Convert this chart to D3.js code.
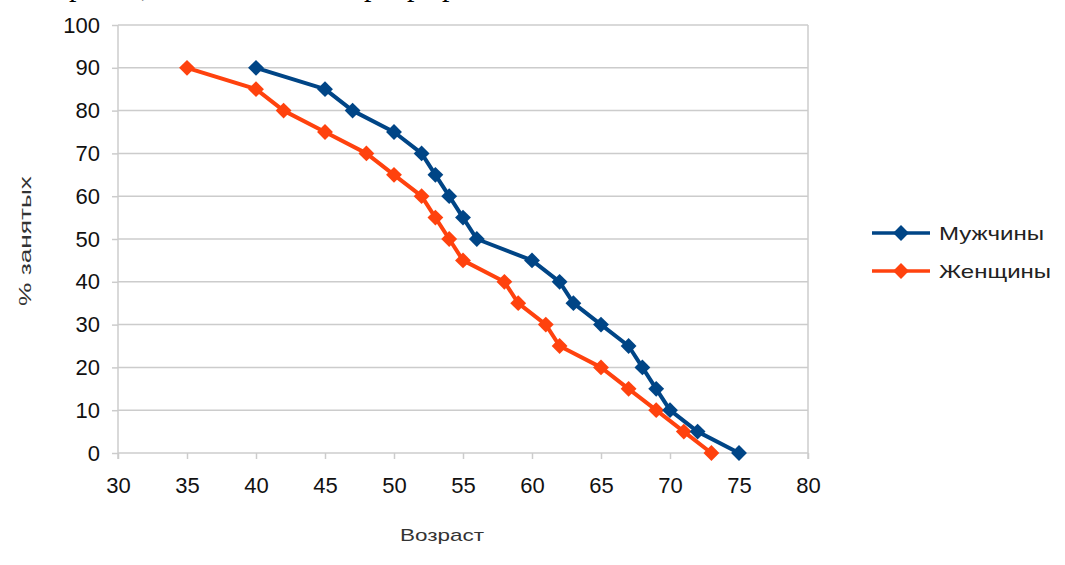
<!DOCTYPE html>
<html><head><meta charset="utf-8">
<script src="https://cdn.jsdelivr.net/npm/d3@7"></script>
<style>body{margin:0;background:#fff}svg{display:block}</style>
</head><body>
<svg id="c" width="1065" height="565"></svg>
<script>
const seriesNames = ["Мужчины", "Женщины"];
const menAge = [40,45,47,50,52,53,54,55,56,60,62,63,65,67,68,69,70,72,75];
const menPct = [90,85,80,75,70,65,60,55,50,45,40,35,30,25,20,15,10,5,0];
const womenAge = [35,40,42,45,48,50,52,53,54,55,58,59,61,62,65,67,69,71,73];
const womenPct = [90,85,80,75,70,65,60,55,50,45,40,35,30,25,20,15,10,5,0];
const xTicks = [30,35,40,45,50,55,60,65,70,75,80];
const yTicks = [0,10,20,30,40,50,60,70,80,90,100];
const xTitle = "Возраст";
const yTitle = "% занятых";
const colors = ["#004586", "#ff420e"];

const svg = d3.select("#c");
const x = d3.scaleLinear().domain([30,80]).range([118,808]);
const y = d3.scaleLinear().domain([0,100]).range([453,25]);
const font = "'Liberation Sans', Arial, sans-serif";

// partial text line cut at the top (as in the source image)
svg.append("g").selectAll("text").data([{t:"р",x:69},{t:",",x:141},{t:"р",x:364},{t:"р",x:407},{t:"р",x:442}])
  .join("text").attr("x",d=>d.x).attr("y",-4).attr("font-family","'Liberation Serif', serif")
  .attr("font-size",30).attr("fill","#000").text(d=>d.t);

// gridlines
svg.append("g").selectAll("line").data(yTicks).join("line")
  .attr("x1",x(30)).attr("x2",x(80)).attr("y1",d=>y(d)).attr("y2",d=>y(d))
  .attr("stroke","#cccccc").attr("stroke-width",1.5);
// vertical frame
svg.append("line").attr("x1",x(30)).attr("x2",x(30)).attr("y1",y(100)).attr("y2",y(0)+6).attr("stroke","#cccccc").attr("stroke-width",1.5);
svg.append("line").attr("x1",x(80)).attr("x2",x(80)).attr("y1",y(100)).attr("y2",y(0)+6).attr("stroke","#cccccc").attr("stroke-width",1.5);

// axes
const xAxis = svg.append("g").attr("transform",`translate(0,${y(0)})`)
  .call(d3.axisBottom(x).tickValues(xTicks).tickSize(6).tickPadding(18));
const yAxis = svg.append("g").attr("transform",`translate(${x(30)},0)`)
  .call(d3.axisLeft(y).tickValues(yTicks).tickSize(6).tickPadding(12));
[xAxis,yAxis].forEach(a=>{
  a.select(".domain").remove();
  a.selectAll(".tick line").attr("stroke","#cccccc").attr("stroke-width",1.5);
  a.selectAll("text").attr("font-family",font).attr("font-size",22).attr("fill","#111");
});

// titles
svg.append("text").attr("x",442).attr("y",541).attr("text-anchor","middle")
  .attr("font-family",font).attr("font-size",17).attr("fill","#333")
  .attr("textLength",84).attr("lengthAdjust","spacingAndGlyphs").text(xTitle);
svg.append("text").attr("transform","translate(31,241) rotate(-90)").attr("text-anchor","middle")
  .attr("font-family",font).attr("font-size",17).attr("fill","#333")
  .attr("textLength",130).attr("lengthAdjust","spacingAndGlyphs").text(yTitle);

// series
const series = [
  {name:seriesNames[0], pts:menAge.map((a,i)=>[a,menPct[i]]), color:colors[0]},
  {name:seriesNames[1], pts:womenAge.map((a,i)=>[a,womenPct[i]]), color:colors[1]}
];
const line = d3.line().x(d=>x(d[0])).y(d=>y(d[1]));
const diamond = d3.symbol().type(d3.symbolDiamond2).size(160);
series.slice().reverse().forEach(s=>{
  const g = svg.append("g");
  g.append("path").datum(s.pts).attr("d",line).attr("fill","none")
    .attr("stroke",s.color).attr("stroke-width",4).attr("stroke-linejoin","round");
  g.selectAll("path.m").data(s.pts).join("path").attr("class","m")
    .attr("transform",d=>`translate(${x(d[0])},${y(d[1])})`)
    .attr("d",diamond).attr("fill",s.color);
});

// legend
const leg = svg.append("g");
series.forEach((s,i)=>{
  const ly = 233 + i*38;
  leg.append("line").attr("x1",872).attr("x2",930).attr("y1",ly).attr("y2",ly)
    .attr("stroke",s.color).attr("stroke-width",3.5);
  leg.append("path").attr("transform",`translate(901,${ly})`).attr("d",diamond).attr("fill",s.color);
  leg.append("text").attr("x",939).attr("y",ly).attr("dy","0.36em")
    .attr("font-family",font).attr("font-size",19).attr("fill","#222")
    .attr("textLength",i===0?105:112).attr("lengthAdjust","spacingAndGlyphs").text(s.name);
});
</script>
</body></html>
